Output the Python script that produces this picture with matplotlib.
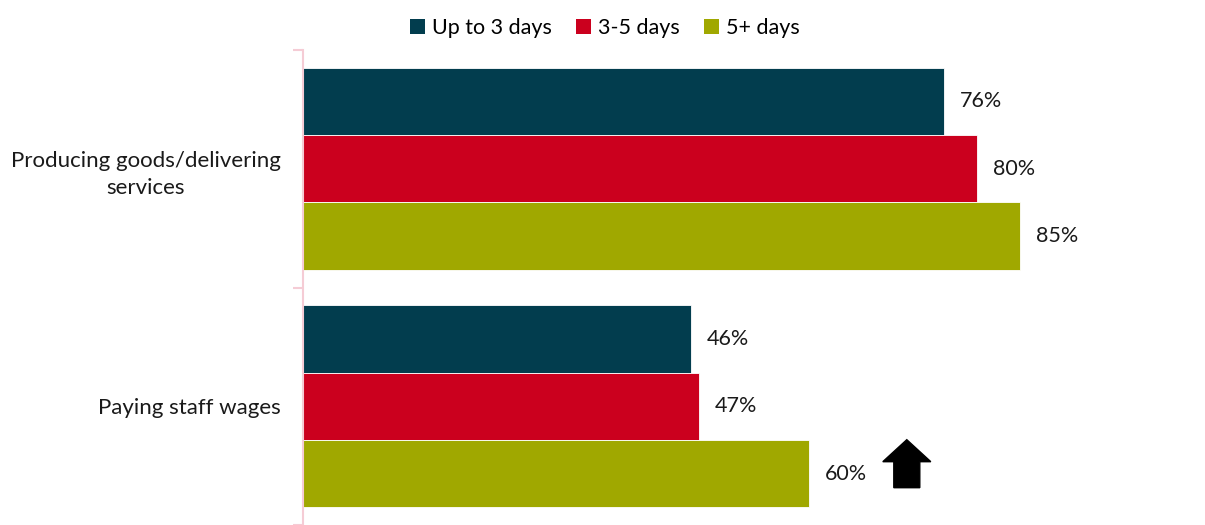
import matplotlib
matplotlib.use("Agg")
import matplotlib.pyplot as plt
from matplotlib.patches import Polygon, Patch
from matplotlib.transforms import IdentityTransform

plt.rcParams['font.family'] = ['Lato', 'DejaVu Sans']

categories = ["Producing goods/delivering\nservices", "Paying staff wages"]
series_names = ["Up to 3 days", "3-5 days", "5+ days"]
values = {
    "Up to 3 days": [76, 46],
    "3-5 days": [80, 47],
    "5+ days": [85, 60],
}
colors = ["#023D4E", "#CB001E", "#A0A800"]

W, H = 1205, 525
fig = plt.figure(figsize=(W / 100, H / 100), dpi=100)
ax = fig.add_axes([303 / W, 0, 1 - 303 / W, 475 / H])

bar_h = 0.284
for i, name in enumerate(series_names):
    offs = (i - 1) * bar_h
    ys = [k + offs for k in range(len(categories))]
    ax.barh(ys, values[name], height=bar_h, color=colors[i],
            edgecolor="white", linewidth=0.6)
    for y, v in zip(ys, values[name]):
        ax.text(v + 1.9, y, f"{v}%", va="center", ha="left",
                fontsize=15.5, color="#1a1a1a")

ax.set_xlim(0, (W - 303) / 8.43)
ax.set_ylim(len(categories) - 0.5, -0.5)
ax.set_xticks([])
ax.set_yticks([k for k in range(len(categories))])
ax.set_yticklabels(categories, fontsize=16, color="#1a1a1a",
                   multialignment="center", linespacing=1.45)
ax.tick_params(axis="y", length=0, pad=16)
ax.set_yticks([-0.5, 0.5, 1.5], minor=True)
ax.tick_params(axis="y", which="minor", length=7, color="#F5CCD5", width=1.5)
for s in ["top", "right", "bottom"]:
    ax.spines[s].set_visible(False)
ax.spines["left"].set_color("#F5CCD5")
ax.spines["left"].set_linewidth(1.5)

# Upward arrow next to the last bar
fig.canvas.draw()
bx, by = ax.transData.transform((values["5+ days"][1], 1 + bar_h))
shape = [(98, 34), (122, 12), (111, 12), (111, -14),
         (85, -14), (85, 12), (74, 12)]
verts = [(bx + dx, by + dy) for dx, dy in shape]
fig.patches.append(Polygon(verts, closed=True, facecolor="black",
                           edgecolor="black", transform=IdentityTransform(),
                           figure=fig))

handles = [Patch(facecolor=c, edgecolor="none") for c in colors]
fig.legend(handles, series_names, loc="center", bbox_to_anchor=(0.502, 1 - 28 / H),
           ncol=3, frameon=False, fontsize=15.5, handlelength=0.7,
           handleheight=0.7, handletextpad=0.3, columnspacing=1.15)

fig.savefig("out.png", dpi=100)
